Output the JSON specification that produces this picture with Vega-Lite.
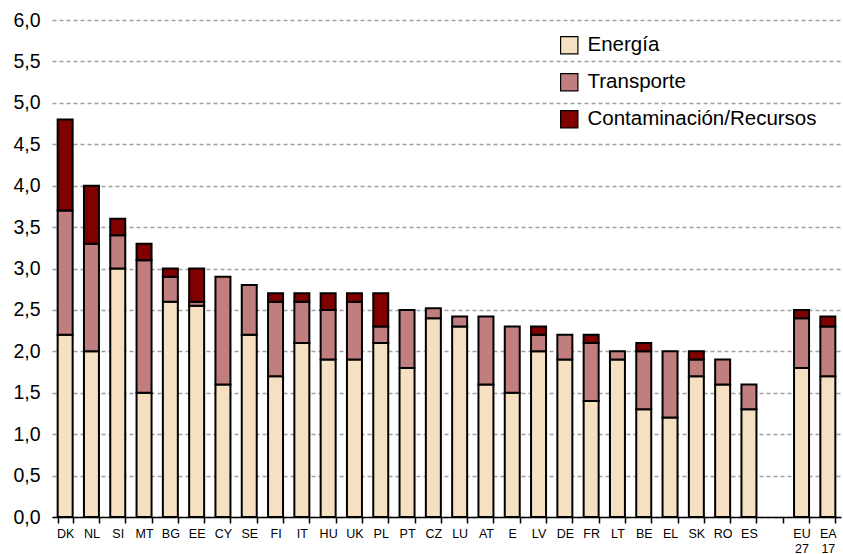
{
  "$schema": "https://vega.github.io/schema/vega-lite/v6.json",
  "width": 789,
  "height": 497,
  "autosize": {"type": "none"},
  "padding": {"left": 52, "top": 20, "right": 2, "bottom": 37},
  "background": "white",
  "config": {"view": {"stroke": null}, "font": "Liberation Sans"},
  "data": {
    "values": [
      {"c": "DK", "t": "Energía", "v": 2.2}, {"c": "DK", "t": "Transporte", "v": 1.5}, {"c": "DK", "t": "Contaminación/Recursos", "v": 1.1},
      {"c": "NL", "t": "Energía", "v": 2.0}, {"c": "NL", "t": "Transporte", "v": 1.3}, {"c": "NL", "t": "Contaminación/Recursos", "v": 0.7},
      {"c": "SI", "t": "Energía", "v": 3.0}, {"c": "SI", "t": "Transporte", "v": 0.4}, {"c": "SI", "t": "Contaminación/Recursos", "v": 0.2},
      {"c": "MT", "t": "Energía", "v": 1.5}, {"c": "MT", "t": "Transporte", "v": 1.6}, {"c": "MT", "t": "Contaminación/Recursos", "v": 0.2},
      {"c": "BG", "t": "Energía", "v": 2.6}, {"c": "BG", "t": "Transporte", "v": 0.3}, {"c": "BG", "t": "Contaminación/Recursos", "v": 0.1},
      {"c": "EE", "t": "Energía", "v": 2.55}, {"c": "EE", "t": "Transporte", "v": 0.05}, {"c": "EE", "t": "Contaminación/Recursos", "v": 0.4},
      {"c": "CY", "t": "Energía", "v": 1.6}, {"c": "CY", "t": "Transporte", "v": 1.3},
      {"c": "SE", "t": "Energía", "v": 2.2}, {"c": "SE", "t": "Transporte", "v": 0.6},
      {"c": "FI", "t": "Energía", "v": 1.7}, {"c": "FI", "t": "Transporte", "v": 0.9}, {"c": "FI", "t": "Contaminación/Recursos", "v": 0.1},
      {"c": "IT", "t": "Energía", "v": 2.1}, {"c": "IT", "t": "Transporte", "v": 0.5}, {"c": "IT", "t": "Contaminación/Recursos", "v": 0.1},
      {"c": "HU", "t": "Energía", "v": 1.9}, {"c": "HU", "t": "Transporte", "v": 0.6}, {"c": "HU", "t": "Contaminación/Recursos", "v": 0.2},
      {"c": "UK", "t": "Energía", "v": 1.9}, {"c": "UK", "t": "Transporte", "v": 0.7}, {"c": "UK", "t": "Contaminación/Recursos", "v": 0.1},
      {"c": "PL", "t": "Energía", "v": 2.1}, {"c": "PL", "t": "Transporte", "v": 0.2}, {"c": "PL", "t": "Contaminación/Recursos", "v": 0.4},
      {"c": "PT", "t": "Energía", "v": 1.8}, {"c": "PT", "t": "Transporte", "v": 0.7},
      {"c": "CZ", "t": "Energía", "v": 2.4}, {"c": "CZ", "t": "Transporte", "v": 0.12},
      {"c": "LU", "t": "Energía", "v": 2.3}, {"c": "LU", "t": "Transporte", "v": 0.12},
      {"c": "AT", "t": "Energía", "v": 1.6}, {"c": "AT", "t": "Transporte", "v": 0.82},
      {"c": "E", "t": "Energía", "v": 1.5}, {"c": "E", "t": "Transporte", "v": 0.8},
      {"c": "LV", "t": "Energía", "v": 2.0}, {"c": "LV", "t": "Transporte", "v": 0.2}, {"c": "LV", "t": "Contaminación/Recursos", "v": 0.1},
      {"c": "DE", "t": "Energía", "v": 1.9}, {"c": "DE", "t": "Transporte", "v": 0.3},
      {"c": "FR", "t": "Energía", "v": 1.4}, {"c": "FR", "t": "Transporte", "v": 0.7}, {"c": "FR", "t": "Contaminación/Recursos", "v": 0.1},
      {"c": "LT", "t": "Energía", "v": 1.9}, {"c": "LT", "t": "Transporte", "v": 0.1},
      {"c": "BE", "t": "Energía", "v": 1.3}, {"c": "BE", "t": "Transporte", "v": 0.7}, {"c": "BE", "t": "Contaminación/Recursos", "v": 0.1},
      {"c": "EL", "t": "Energía", "v": 1.2}, {"c": "EL", "t": "Transporte", "v": 0.8},
      {"c": "SK", "t": "Energía", "v": 1.7}, {"c": "SK", "t": "Transporte", "v": 0.2}, {"c": "SK", "t": "Contaminación/Recursos", "v": 0.1},
      {"c": "RO", "t": "Energía", "v": 1.6}, {"c": "RO", "t": "Transporte", "v": 0.3},
      {"c": "ES", "t": "Energía", "v": 1.3}, {"c": "ES", "t": "Transporte", "v": 0.3},
      {"c": "EU 27", "t": "Energía", "v": 1.8}, {"c": "EU 27", "t": "Transporte", "v": 0.6}, {"c": "EU 27", "t": "Contaminación/Recursos", "v": 0.1},
      {"c": "EA 17", "t": "Energía", "v": 1.7}, {"c": "EA 17", "t": "Transporte", "v": 0.6}, {"c": "EA 17", "t": "Contaminación/Recursos", "v": 0.12}
    ]
  },
  "transform": [
    {"calculate": "indexof(['Energía', 'Transporte', 'Contaminación/Recursos'], datum.t)", "as": "k"}
  ],
  "mark": {"type": "bar", "stroke": "#000000", "strokeWidth": 2},
  "encoding": {
    "x": {
      "field": "c",
      "type": "nominal",
      "sort": null,
      "scale": {
        "domain": ["DK","NL","SI","MT","BG","EE","CY","SE","FI","IT","HU","UK","PL","PT","CZ","LU","AT","E","LV","DE","FR","LT","BE","EL","SK","RO","ES"," ","EU 27","EA 17"],
        "paddingInner": 0.43,
        "paddingOuter": 0.215
      },
      "axis": {
        "title": null,
        "labelAngle": 0,
        "labelFontSize": 12.5,
        "labelColor": "#000000",
        "labelPadding": 4,
        "labelExpr": "datum.value ? split(datum.value, ' ') : ''",
        "labelLineHeight": 15,
        "tickBand": "extent",
        "tickColor": "#000000",
        "tickSize": 6,
        "tickWidth": 1.5,
        "domainColor": "#000000",
        "domainWidth": 1.5,
        "labelBaseline": "top"
      }
    },
    "y": {
      "field": "v",
      "type": "quantitative",
      "stack": "zero",
      "scale": {"domain": [0, 6], "nice": false},
      "axis": {
        "title": null,
        "values": [0, 0.5, 1, 1.5, 2, 2.5, 3, 3.5, 4, 4.5, 5, 5.5, 6],
        "labelExpr": "replace(format(datum.value, '.1f'), '.', ',')",
        "labelFontSize": 19.5,
        "labelColor": "#000000",
        "labelPadding": 12,
        "domain": false,
        "ticks": false,
        "grid": true,
        "gridColor": "#A0A0A0",
        "gridWidth": 1.5,
        "gridDash": [4, 3]
      }
    },
    "color": {
      "field": "t",
      "type": "nominal",
      "sort": ["Energía", "Transporte", "Contaminación/Recursos"],
      "scale": {
        "domain": ["Energía", "Transporte", "Contaminación/Recursos"],
        "range": ["#F5E1C1", "#C07E7E", "#800000"]
      },
      "legend": {
        "title": null,
        "orient": "none",
        "legendX": 507,
        "legendY": 15,
        "symbolType": "square",
        "symbolSize": 300,
        "symbolStrokeColor": "#000000",
        "symbolStrokeWidth": 1.2,
        "symbolOpacity": 1,
        "labelFontSize": 20.5,
        "labelColor": "#000000",
        "labelOffset": 8,
        "rowPadding": 14,
        "labelLimit": 400
      }
    },
    "order": {"field": "k", "type": "quantitative", "sort": "ascending"}
  }
}
